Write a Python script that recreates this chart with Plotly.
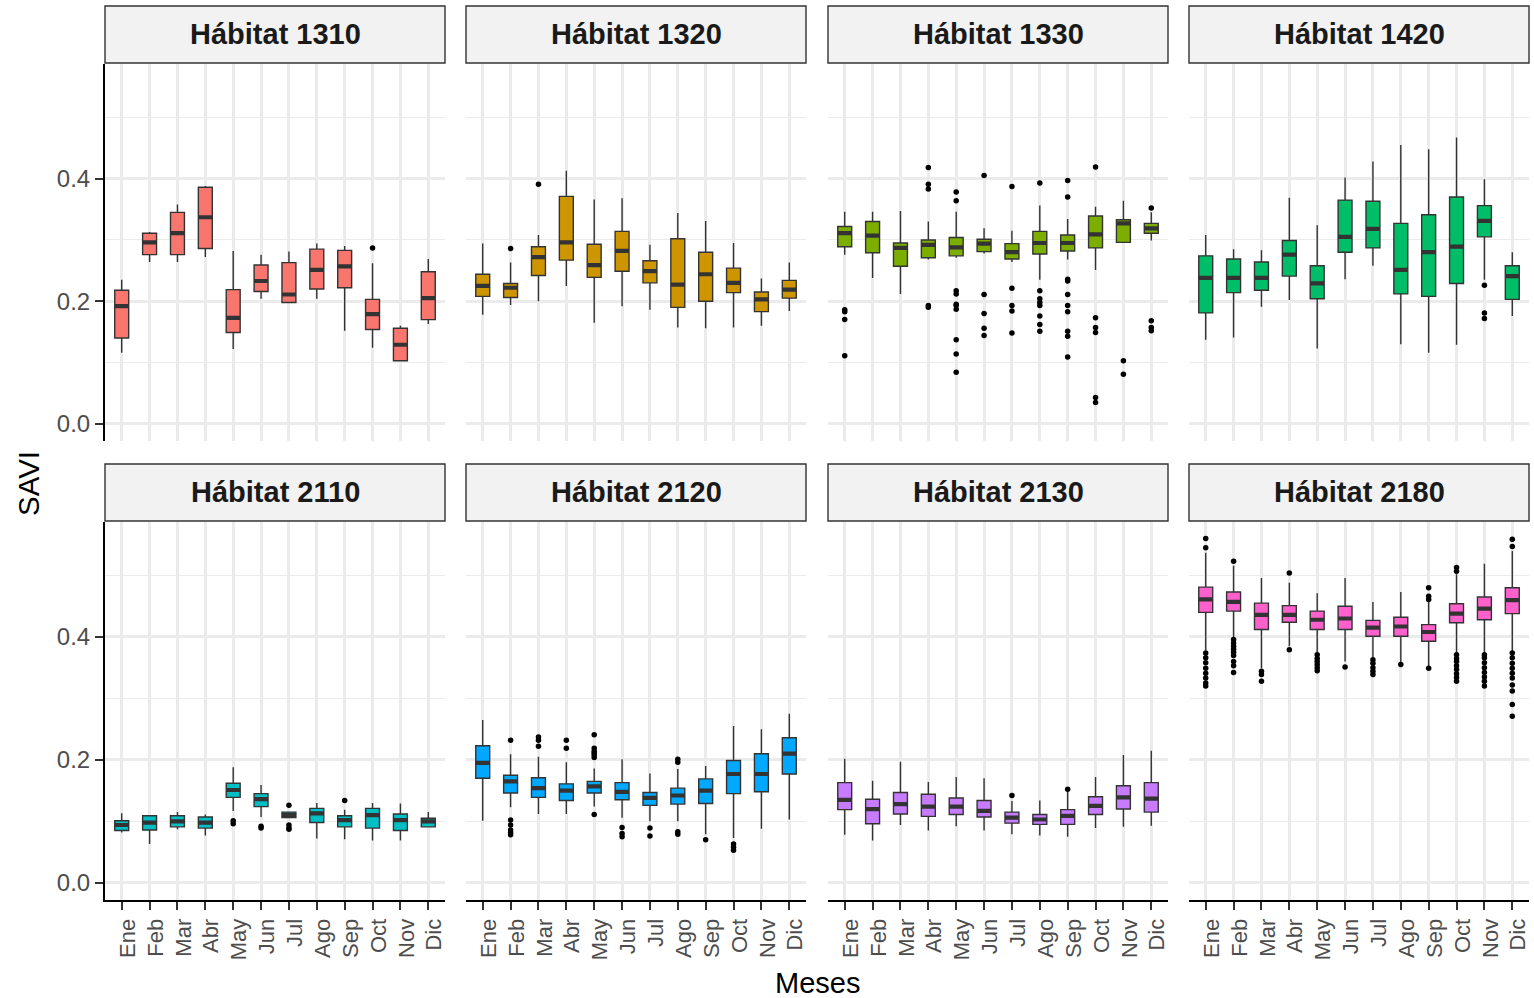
import plotly.graph_objects as go

# ---------------- data ----------------
MONTHS = ["Ene", "Feb", "Mar", "Abr", "May", "Jun", "Jul", "Ago", "Sep", "Oct", "Nov", "Dic"]
HABITATS = ["Hábitat 1310", "Hábitat 1320", "Hábitat 1330", "Hábitat 1420",
            "Hábitat 2110", "Hábitat 2120", "Hábitat 2130", "Hábitat 2180"]
COLORS = ["#F8766D", "#CD9600", "#7CAE00", "#00BE67", "#00BFC4", "#00A9FF", "#C77CFF", "#FF61CC"]

# Hábitat 1310
LOW_1310 = [0.116, 0.264, 0.264, 0.272, 0.122, 0.204, 0.197, 0.204, 0.152, 0.124, 0.103, 0.163]
Q1_1310 = [0.140, 0.276, 0.276, 0.286, 0.149, 0.216, 0.198, 0.220, 0.222, 0.154, 0.103, 0.170]
MED_1310 = [0.192, 0.296, 0.311, 0.337, 0.173, 0.233, 0.211, 0.251, 0.257, 0.179, 0.129, 0.205]
Q3_1310 = [0.218, 0.311, 0.345, 0.386, 0.219, 0.259, 0.263, 0.285, 0.283, 0.203, 0.156, 0.248]
HIGH_1310 = [0.235, 0.313, 0.358, 0.388, 0.282, 0.276, 0.281, 0.294, 0.290, 0.262, 0.160, 0.269]
OUT_1310 = [[], [], [], [], [], [], [], [], [], [0.287], [], []]

# Hábitat 1320
LOW_1320 = [0.178, 0.194, 0.200, 0.225, 0.165, 0.192, 0.186, 0.157, 0.156, 0.157, 0.160, 0.184]
Q1_1320 = [0.208, 0.206, 0.242, 0.267, 0.239, 0.249, 0.230, 0.190, 0.200, 0.214, 0.183, 0.205]
MED_1320 = [0.225, 0.222, 0.272, 0.296, 0.259, 0.282, 0.249, 0.227, 0.244, 0.230, 0.203, 0.219]
Q3_1320 = [0.244, 0.229, 0.289, 0.371, 0.293, 0.314, 0.266, 0.302, 0.280, 0.254, 0.215, 0.234]
HIGH_1320 = [0.294, 0.263, 0.308, 0.413, 0.366, 0.368, 0.292, 0.344, 0.331, 0.295, 0.237, 0.263]
OUT_1320 = [[], [0.286], [0.391], [], [], [], [], [], [], [], [], []]

# Hábitat 1330
LOW_1330 = [0.276, 0.238, 0.212, 0.268, 0.271, 0.278, 0.264, 0.235, 0.268, 0.251, 0.296, 0.299]
Q1_1330 = [0.289, 0.279, 0.257, 0.271, 0.274, 0.281, 0.269, 0.277, 0.282, 0.287, 0.296, 0.311]
MED_1330 = [0.311, 0.307, 0.287, 0.292, 0.288, 0.294, 0.280, 0.295, 0.295, 0.309, 0.327, 0.319]
Q3_1330 = [0.322, 0.330, 0.295, 0.300, 0.304, 0.301, 0.294, 0.314, 0.308, 0.339, 0.333, 0.327]
HIGH_1330 = [0.346, 0.346, 0.347, 0.330, 0.346, 0.319, 0.315, 0.356, 0.334, 0.354, 0.364, 0.345]
OUT_1330 = [
    [0.186, 0.183, 0.170, 0.111],
    [],
    [],
    [0.418, 0.391, 0.383, 0.193, 0.190],
    [0.378, 0.364, 0.217, 0.212, 0.195, 0.193, 0.187, 0.137, 0.114, 0.084],
    [0.405, 0.211, 0.180, 0.156, 0.144],
    [0.387, 0.221, 0.193, 0.184, 0.148],
    [0.393, 0.217, 0.204, 0.198, 0.193, 0.176, 0.162, 0.151],
    [0.397, 0.370, 0.236, 0.233, 0.211, 0.193, 0.183, 0.151, 0.143, 0.109],
    [0.419, 0.173, 0.157, 0.149, 0.043, 0.035],
    [0.103, 0.081],
    [0.352, 0.168, 0.157, 0.152],
]

# Hábitat 1420
LOW_1420 = [0.137, 0.141, 0.191, 0.202, 0.123, 0.236, 0.258, 0.130, 0.116, 0.129, 0.235, 0.176]
Q1_1420 = [0.181, 0.214, 0.218, 0.241, 0.204, 0.280, 0.287, 0.212, 0.208, 0.229, 0.305, 0.203]
MED_1420 = [0.238, 0.238, 0.238, 0.276, 0.229, 0.305, 0.318, 0.251, 0.280, 0.289, 0.331, 0.241]
Q3_1420 = [0.274, 0.269, 0.264, 0.299, 0.258, 0.365, 0.363, 0.327, 0.341, 0.370, 0.356, 0.258]
HIGH_1420 = [0.308, 0.285, 0.283, 0.369, 0.324, 0.402, 0.428, 0.455, 0.448, 0.467, 0.399, 0.280]
OUT_1420 = [[], [], [], [], [], [], [], [], [], [], [0.226, 0.181, 0.172], []]

# Hábitat 2110
LOW_2110 = [0.082, 0.063, 0.087, 0.077, 0.117, 0.107, 0.105, 0.072, 0.071, 0.069, 0.069, 0.091]
Q1_2110 = [0.085, 0.086, 0.091, 0.089, 0.139, 0.124, 0.106, 0.098, 0.091, 0.089, 0.085, 0.091]
MED_2110 = [0.094, 0.098, 0.100, 0.098, 0.151, 0.136, 0.110, 0.113, 0.102, 0.110, 0.102, 0.100]
Q3_2110 = [0.101, 0.109, 0.109, 0.107, 0.162, 0.145, 0.115, 0.121, 0.109, 0.121, 0.112, 0.105]
HIGH_2110 = [0.113, 0.110, 0.115, 0.111, 0.188, 0.159, 0.116, 0.130, 0.119, 0.130, 0.129, 0.115]
OUT_2110 = [[], [], [], [], [0.101, 0.096], [0.092, 0.089], [0.126, 0.094, 0.089, 0.087],
            [], [0.134], [], [], []]

# Hábitat 2120
LOW_2120 = [0.101, 0.123, 0.112, 0.112, 0.124, 0.106, 0.100, 0.100, 0.079, 0.073, 0.088, 0.103]
Q1_2120 = [0.170, 0.146, 0.139, 0.134, 0.146, 0.135, 0.126, 0.128, 0.129, 0.145, 0.148, 0.177]
MED_2120 = [0.195, 0.165, 0.154, 0.150, 0.157, 0.148, 0.138, 0.142, 0.150, 0.177, 0.177, 0.210]
Q3_2120 = [0.223, 0.175, 0.171, 0.161, 0.165, 0.163, 0.147, 0.154, 0.169, 0.199, 0.210, 0.236]
HIGH_2120 = [0.265, 0.209, 0.205, 0.196, 0.186, 0.201, 0.178, 0.185, 0.190, 0.255, 0.250, 0.275]
OUT_2120 = [
    [],
    [0.232, 0.102, 0.094, 0.086, 0.082, 0.078],
    [0.237, 0.232, 0.222],
    [0.232, 0.219],
    [0.241, 0.219, 0.214, 0.211, 0.208, 0.204, 0.111],
    [0.090, 0.080, 0.075],
    [0.089, 0.076],
    [0.201, 0.196, 0.083, 0.079],
    [0.070],
    [0.063, 0.058, 0.053],
    [],
    [],
]

# Hábitat 2130
LOW_2130 = [0.078, 0.069, 0.094, 0.085, 0.092, 0.085, 0.079, 0.077, 0.075, 0.089, 0.091, 0.093]
Q1_2130 = [0.119, 0.096, 0.112, 0.108, 0.111, 0.107, 0.097, 0.095, 0.095, 0.111, 0.120, 0.115]
MED_2130 = [0.135, 0.120, 0.128, 0.124, 0.124, 0.117, 0.106, 0.103, 0.109, 0.125, 0.139, 0.137]
Q3_2130 = [0.163, 0.136, 0.147, 0.144, 0.138, 0.134, 0.115, 0.111, 0.119, 0.140, 0.158, 0.163]
HIGH_2130 = [0.202, 0.166, 0.197, 0.164, 0.172, 0.170, 0.133, 0.134, 0.148, 0.172, 0.208, 0.215]
OUT_2130 = [[], [], [], [], [], [], [0.142], [], [0.152], [], [], []]

# Hábitat 2180
LOW_2180 = [0.378, 0.398, 0.349, 0.385, 0.374, 0.360, 0.366, 0.358, 0.352, 0.374, 0.374, 0.377]
Q1_2180 = [0.440, 0.442, 0.412, 0.424, 0.412, 0.412, 0.401, 0.401, 0.393, 0.423, 0.428, 0.438]
MED_2180 = [0.461, 0.457, 0.436, 0.436, 0.428, 0.430, 0.415, 0.417, 0.408, 0.438, 0.446, 0.460]
Q3_2180 = [0.481, 0.473, 0.455, 0.451, 0.442, 0.450, 0.427, 0.432, 0.420, 0.454, 0.465, 0.480]
HIGH_2180 = [0.537, 0.516, 0.496, 0.488, 0.471, 0.496, 0.457, 0.473, 0.459, 0.502, 0.519, 0.540]
OUT_2180 = [
    [0.560, 0.545, 0.374, 0.366, 0.358, 0.349, 0.341, 0.333, 0.325, 0.320],
    [0.523, 0.396, 0.390, 0.385, 0.380, 0.375, 0.370, 0.360, 0.353, 0.342],
    [0.344, 0.339, 0.328],
    [0.504, 0.379],
    [0.371, 0.365, 0.360, 0.355, 0.350, 0.345],
    [0.351],
    [0.363, 0.357, 0.350, 0.344, 0.339],
    [0.355],
    [0.480, 0.466, 0.461, 0.349],
    [0.513, 0.507, 0.371, 0.365, 0.360, 0.353, 0.347, 0.340, 0.334, 0.328],
    [0.371, 0.366, 0.358, 0.350, 0.342, 0.335, 0.328, 0.320],
    [0.559, 0.547, 0.374, 0.366, 0.357, 0.349, 0.341, 0.333, 0.322, 0.312, 0.290, 0.271],
]

STATS = [
    (LOW_1310, Q1_1310, MED_1310, Q3_1310, HIGH_1310, OUT_1310),
    (LOW_1320, Q1_1320, MED_1320, Q3_1320, HIGH_1320, OUT_1320),
    (LOW_1330, Q1_1330, MED_1330, Q3_1330, HIGH_1330, OUT_1330),
    (LOW_1420, Q1_1420, MED_1420, Q3_1420, HIGH_1420, OUT_1420),
    (LOW_2110, Q1_2110, MED_2110, Q3_2110, HIGH_2110, OUT_2110),
    (LOW_2120, Q1_2120, MED_2120, Q3_2120, HIGH_2120, OUT_2120),
    (LOW_2130, Q1_2130, MED_2130, Q3_2130, HIGH_2130, OUT_2130),
    (LOW_2180, Q1_2180, MED_2180, Q3_2180, HIGH_2180, OUT_2180),
]

# ---------------- layout geometry (pixels) ----------------
W, H = 1534, 998
PX0 = [105, 466, 828, 1189]
PX1 = [445, 806, 1168, 1529]
PY0 = [64, 522]     # panel top
PY1 = [441, 900]    # panel bottom
SY0 = [6, 464]      # strip top
SY1 = [63, 521]     # strip bottom

FONT = "Liberation Sans, Arial, Helvetica, sans-serif"
GRID = "#EBEBEB"
BOX_W = 0.5

fig = go.Figure()
layout = dict(
    width=W, height=H, template="none",
    paper_bgcolor="white", plot_bgcolor="white",
    margin=dict(l=0, r=0, t=0, b=0, pad=0),
    showlegend=False, boxmode="overlay",
    font=dict(family=FONT, color="#4D4D4D"),
    shapes=[], annotations=[],
)

for k, (hab, col, st) in enumerate(zip(HABITATS, COLORS, STATS)):
    r, c = divmod(k, 4)
    sfx = "" if k == 0 else str(k + 1)
    xa, ya = "x" + sfx, "y" + sfx
    low, q1, med, q3, high, out = st

    fig.add_trace(go.Box(
        x=MONTHS, q1=q1, median=med, q3=q3, lowerfence=low, upperfence=high,
        xaxis=xa, yaxis=ya, width=BOX_W, whiskerwidth=0,
        fillcolor=col, line=dict(color="#333333", width=1.4),
        boxpoints=False, hoverinfo="skip",
    ))
    # thick median bar (ggplot "fatten")
    fig.add_trace(go.Box(
        x=MONTHS, q1=med, median=med, q3=med, lowerfence=med, upperfence=med,
        xaxis=xa, yaxis=ya, width=BOX_W, whiskerwidth=0,
        fillcolor="rgba(0,0,0,0)", line=dict(color="#333333", width=4.2),
        boxpoints=False, hoverinfo="skip",
    ))
    ox, oy = [], []
    for m, vals in zip(MONTHS, out):
        for v in vals:
            ox.append(m)
            oy.append(v)
    fig.add_trace(go.Scatter(
        x=ox, y=oy, mode="markers", xaxis=xa, yaxis=ya,
        marker=dict(color="black", size=5.5, line=dict(width=0)),
        hoverinfo="skip",
    ))

    bottom = r == 1
    left = c == 0
    layout["xaxis" + sfx] = dict(
        domain=[PX0[c] / W, PX1[c] / W], anchor=ya,
        type="category", categoryorder="array", categoryarray=MONTHS,
        range=[-0.6, 11.6], automargin=False,
        showgrid=True, gridcolor=GRID, gridwidth=2.6, zeroline=False,
        showline=bottom, linecolor="black", linewidth=2,
        ticks="outside" if bottom else "", ticklen=8, tickwidth=2.2, tickcolor="#333333",
        showticklabels=bottom, tickangle=-90, ticklabelshift=6,
        tickfont=dict(family=FONT, size=22, color="#4D4D4D"),
    )
    layout["yaxis" + sfx] = dict(
        domain=[1 - PY1[r] / H, 1 - PY0[r] / H], anchor=xa,
        range=[-0.028, 0.587], automargin=False,
        tickmode="array", tickvals=[0.0, 0.2, 0.4], ticktext=["0.0", "0.2", "0.4"],
        showgrid=True, gridcolor=GRID, gridwidth=2.6, zeroline=False,
        minor=dict(tickmode="array", tickvals=[0.1, 0.3, 0.5], showgrid=True,
                   gridcolor=GRID, gridwidth=1.4, ticks=""),
        showline=left, linecolor="black", linewidth=2,
        ticks="outside" if left else "", ticklen=8, tickwidth=2.2, tickcolor="#333333",
        showticklabels=left,
        tickfont=dict(family=FONT, size=24, color="#4D4D4D"),
    )

    # strip
    layout["shapes"].append(dict(
        type="rect", xref="paper", yref="paper",
        x0=PX0[c] / W, x1=PX1[c] / W, y0=1 - SY1[r] / H, y1=1 - SY0[r] / H,
        fillcolor="#F2F2F2", line=dict(color="#333333", width=1.4), layer="below",
    ))
    layout["annotations"].append(dict(
        text="<b>" + hab + "</b>", xref="paper", yref="paper",
        x=(PX0[c] + PX1[c]) / 2 / W, y=1 - (SY0[r] + SY1[r]) / 2 / H,
        xanchor="center", yanchor="middle", showarrow=False,
        font=dict(family=FONT, size=29, color="#1A1A1A"),
    ))

# axis titles
layout["annotations"].append(dict(
    text="Meses", xref="paper", yref="paper", x=817 / W, y=1 - 983 / H,
    xanchor="center", yanchor="middle", showarrow=False,
    font=dict(family=FONT, size=29, color="black"),
))
layout["annotations"].append(dict(
    text="SAVI", xref="paper", yref="paper", x=28 / W, y=1 - 483 / H,
    xanchor="center", yanchor="middle", showarrow=False, textangle=-90,
    font=dict(family=FONT, size=29.5, color="black"),
))

fig.update_layout(**layout)
fig.write_html(
    "out.html",
    config={"displayModeBar": False},
    post_script="document.body.style.margin='0px';document.body.style.overflow='hidden';",
)
